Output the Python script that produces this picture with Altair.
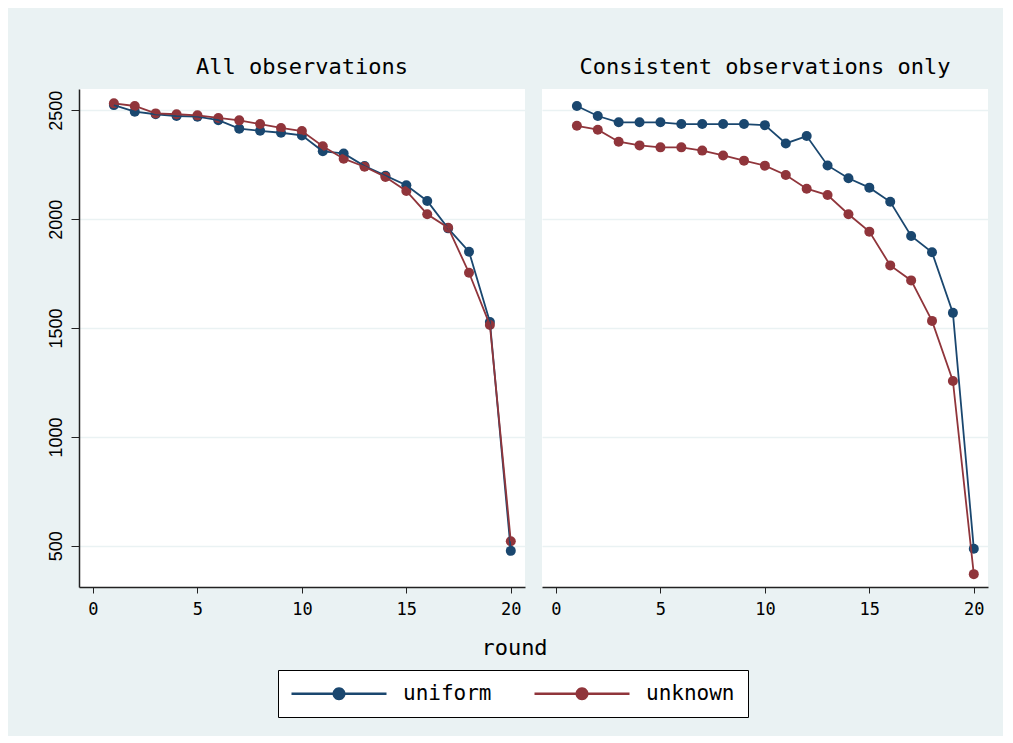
import math
import altair as alt
import pandas as pd

rounds = list(range(1, 21))
panels = ["All observations", "Consistent observations only"]
groups = ["uniform", "unknown"]
colors = ["#1A476F", "#90353B"]

all_uniform = [2524, 2494, 2482, 2474, 2471, 2455, 2416, 2406, 2397, 2385,
               2312, 2302, 2244, 2200, 2156, 2084, 1958, 1851, 1528, 477]
all_unknown = [2532, 2520, 2486, 2482, 2477, 2465, 2454, 2437, 2419, 2405,
               2335, 2278, 2241, 2194, 2130, 2023, 1961, 1754, 1514, 521]
cons_uniform = [2520, 2474, 2445, 2445, 2445, 2437, 2437, 2437, 2437, 2432,
                2348, 2382, 2247, 2188, 2145, 2080, 1923, 1848, 1570, 487]
cons_unknown = [2429, 2411, 2356, 2339, 2330, 2330, 2315, 2293, 2269, 2246,
                2203, 2140, 2111, 2023, 1943, 1788, 1719, 1533, 1257, 370]


def make_df(panel, uni, unk):
    rows = []
    for g, vals in zip(groups, [uni, unk]):
        for r, v in zip(rounds, vals):
            rows.append({"panel": panel, "group": g, "round": r, "value": v})
    return pd.DataFrame(rows)


df_all = make_df(panels[0], all_uniform, all_unknown)
df_cons = make_df(panels[1], cons_uniform, cons_unknown)

MONO = "DejaVu Sans Mono"
SANS = "Liberation Sans"
BG = "#EAF2F3"

x_scale = alt.Scale(domain=[-0.67, 20.68], nice=False, zero=False)
y_scale = alt.Scale(domain=[311, 2598], nice=False, zero=False)
color_scale = alt.Scale(domain=groups, range=colors)

# legend symbol: a horizontal line with a dot in its middle (polygon circle);
# the path starts at the entry's left edge (x=-1) so it does not overflow the box
cx = 3.75
circ = []
for k in range(24):
    a = 2 * math.pi * k / 24
    circ.append(f"{cx + 0.65 * math.cos(a):.3f},{0.65 * math.sin(a):.3f}")
legend_path = ("M-1,-0.12L8.5,-0.12L8.5,0.12L-1,0.12Z"
               "M" + "L".join(circ) + "Z")

legend = alt.Legend(title=None, orient="none", direction="horizontal",
                    legendX=199, legendY=581,
                    labelFont=MONO, labelFontSize=21, labelColor="black",
                    symbolType=legend_path, symbolSize=400,
                    symbolStrokeWidth=0, symbolOpacity=1,
                    labelOffset=91, columnPadding=42,
                    strokeColor="black", fillColor="white", padding=13)


def panel(df, title, left):
    if left:
        x_axis = alt.Axis(values=[0, 5, 10, 15, 20], grid=False, title="round",
                          titleX=435, titleAnchor="middle",
                          labelFont=MONO, labelFontSize=17, labelColor="black",
                          titleFont=MONO, titleFontSize=22, titleFontWeight="normal",
                          titleColor="black", titlePadding=20,
                          domainColor="#222", domainWidth=1.5,
                          tickColor="#222", tickSize=6, labelPadding=8)
        y_axis = alt.Axis(values=[500, 1000, 1500, 2000, 2500], grid=True,
                          format="d", title=None,
                          gridColor=BG, gridWidth=1.5,
                          labelAngle=270, labelFont=SANS, labelFontSize=18,
                          labelColor="black", labelPadding=6,
                          domainColor="#222", domainWidth=1.5,
                          tickColor="#222", tickSize=8)
    else:
        x_axis = alt.Axis(values=[0, 5, 10, 15, 20], grid=False, title=None,
                          labelFont=MONO, labelFontSize=17, labelColor="black",
                          domainColor="#222", domainWidth=1.5,
                          tickColor="#222", tickSize=6, labelPadding=8)
        y_axis = alt.Axis(values=[500, 1000, 1500, 2000, 2500], grid=True,
                          title=None, labels=False, ticks=False, domain=False,
                          gridColor=BG, gridWidth=1.5)
    x = alt.X("round:Q", scale=x_scale, axis=x_axis)
    y = alt.Y("value:Q", scale=y_scale, axis=y_axis)
    color = alt.Color("group:N", scale=color_scale, legend=legend)
    points = alt.Chart(df).mark_circle(size=100, opacity=1).encode(
        x=x, y=y, color=color,
    )
    lines = alt.Chart(df).mark_line(strokeWidth=1.8).encode(
        x=x, y=y, color=color, detail="group:N",
    )
    return alt.layer(points, lines).properties(
        width=446, height=498,
        title=alt.TitleParams(title, font=MONO, fontSize=22, fontWeight="normal",
                              color="black", anchor="middle", offset=10),
    )


chart = alt.hconcat(
    panel(df_all, panels[0], True),
    panel(df_cons, panels[1], False),
    spacing=17, bounds="flush",
).properties(
    background=BG,
    padding={"top": 48, "left": 39, "right": 15, "bottom": 18},
).configure_view(
    fill="white", strokeWidth=0
)

chart.save("out.html", embed_options={"renderer": "svg", "actions": False})
